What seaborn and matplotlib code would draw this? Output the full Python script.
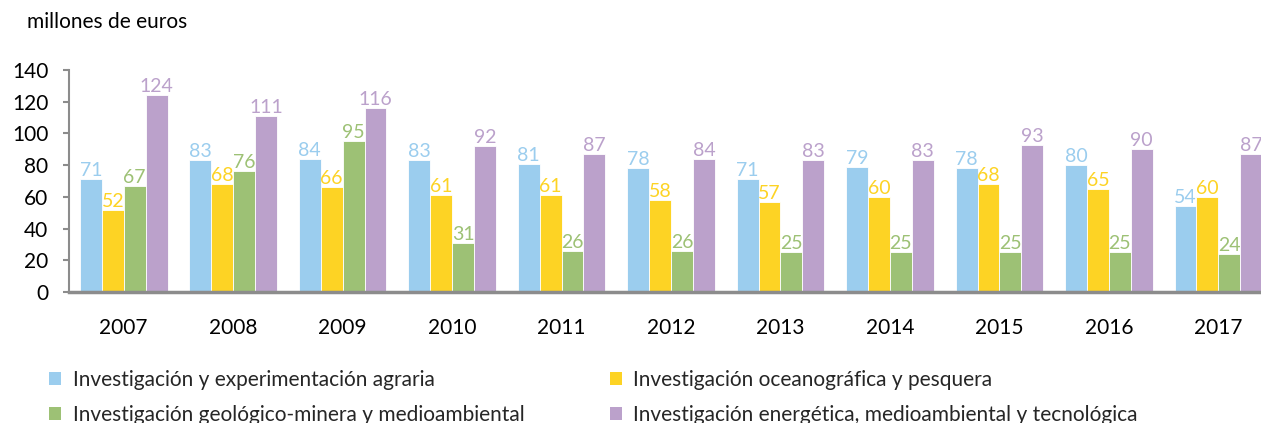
import matplotlib
matplotlib.use("Agg")
import matplotlib.pyplot as plt
import seaborn as sns
import pandas as pd
from matplotlib.patches import Patch

years = ["2007", "2008", "2009", "2010", "2011", "2012", "2013", "2014", "2015", "2016", "2017"]
series_names = [
    "Investigación y experimentación agraria",
    "Investigación oceanográfica y pesquera",
    "Investigación geológico-minera y medioambiental",
    "Investigación energética, medioambiental y tecnológica",
]
agraria = [71, 83, 84, 83, 81, 78, 71, 79, 78, 80, 54]
oceanografica = [52, 68, 66, 61, 61, 58, 57, 60, 68, 65, 60]
geologico = [67, 76, 95, 31, 26, 26, 25, 25, 25, 25, 24]
energetica = [124, 111, 116, 92, 87, 84, 83, 83, 93, 90, 87]
colors = ["#9BCDEE", "#FDD324", "#9DC175", "#BBA1CB"]

rows = []
for name, vals in zip(series_names, [agraria, oceanografica, geologico, energetica]):
    for y, v in zip(years, vals):
        rows.append({"year": y, "value": v, "series": name})
df = pd.DataFrame(rows)

sns.set_theme(style="white")
plt.rcParams["font.family"] = ["Lato", "DejaVu Sans"]

fig = plt.figure(figsize=(12.61, 4.23), dpi=100)
ax = fig.add_axes([69 / 1261, 1 - 292 / 423, 1 - 69 / 1261, (292 - 70) / 423])

sns.barplot(data=df, x="year", y="value", hue="series", hue_order=series_names,
            palette=colors, width=0.8, dodge=True, ax=ax, legend=False,
            edgecolor="white", linewidth=0.6, saturation=1)

for cont, col in zip(ax.containers, colors):
    ax.bar_label(cont, labels=[f"{int(b.get_height())}" for b in cont],
                 color=col, fontsize=14, padding=0)

ax.set_ylim(0, 140)
ax.set_xlim(-0.5, 10.39)
ax.set_yticks(range(0, 141, 20))
ax.set_xlabel("")
ax.set_ylabel("")
for s in ["top", "right"]:
    ax.spines[s].set_visible(False)
ax.spines["left"].set_color("#8C8C8C")
ax.spines["left"].set_linewidth(1.5)
ax.spines["bottom"].set_color("#8C8C8C")
ax.spines["bottom"].set_linewidth(2.5)
ax.tick_params(axis="y", left=True, length=4, width=1.5, color="#8C8C8C",
               labelsize=15, pad=11, labelcolor="black")
ax.tick_params(axis="x", bottom=False, labelsize=15, pad=13, labelcolor="black")

fig.text(27 / 1261, 1 - 22 / 423, "millones de euros", fontsize=15,
         va="center", ha="left", color="black")

order = [0, 2, 1, 3]
handles = [Patch(facecolor=colors[i], edgecolor="none") for i in order]
labels = [series_names[i] for i in order]
leg = fig.legend(handles, labels, ncol=2, loc="upper left",
                 bbox_to_anchor=(49 / 1261, 1 - 370 / 423), frameon=False,
                 borderpad=0, borderaxespad=0,
                 fontsize=15, handlelength=0.58, handleheight=0.58,
                 handletextpad=0.55, columnspacing=4.1, labelspacing=0.7)

fig.savefig("out.png", dpi=100)
